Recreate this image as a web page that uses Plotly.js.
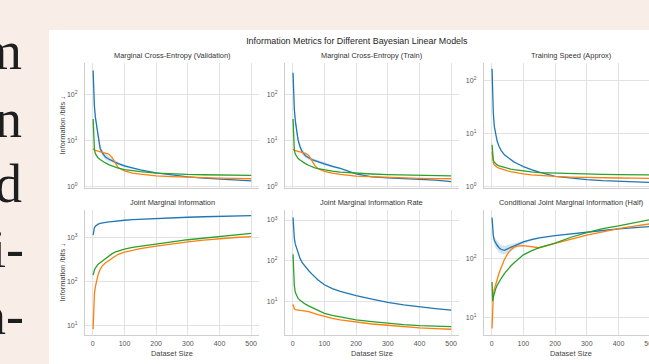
<!DOCTYPE html>
<html>
<head>
<meta charset="utf-8">
<script src="https://cdn.plot.ly/plotly-3.0.1.min.js"></script>
<style>
  html, body { margin:0; padding:0; width:649px; height:364px; overflow:hidden; background:#f9ede8; }
  #page { position:relative; width:649px; height:364px; overflow:hidden; }
  .ln { position:absolute; left:-200px; width:222px; text-align:right; font-family:"Liberation Serif","DejaVu Serif",serif; font-size:54px; line-height:54px; color:#1e1e1e; white-space:nowrap; }
  #chart { position:absolute; left:49px; top:30px; width:620px; height:340px; background:#fff; }
</style>
</head>
<body>
<div id="page">
  <div class="ln" style="top:24px">m</div>
  <div class="ln" style="top:92px">n</div>
  <div class="ln" style="top:157px">d</div>
  <div class="ln" style="top:222px;width:224px">i-</div>
  <div class="ln" style="top:289px;width:224px">n-</div>
  <div id="chart"></div>
</div>
<script>
// ---------- data ----------
const datasetSize = [1,2,3,5,8,12,17,23,30,40,50,60,70,80,100,125,150,200,250,300,350,400,450,500];
const bandSize = [3,5,8,12,17,23,30,40,50,60,70,80,100,125,150];

const panelTitles = ["Marginal Cross-Entropy (Validation)","Marginal Cross-Entropy (Train)","Training Speed (Approx)",
                     "Joint Marginal Information","Joint Marginal Information Rate","Conditional Joint Marginal Information (Half)"];
const seriesNames = ["Model A","Model B","Model C"];
const xTickVals = [0,100,200,300,400,500];
const yTickVals = [1,10,100,1000];
const yTickText = ["10<sup>0</sup>","10<sup>1</sup>","10<sup>2</sup>","10<sup>3</sup>"];

// Marginal Cross-Entropy (Validation)
const valBlue   = [327,170,100,55,32,20,11,6.7,5.3,4.3,3.9,3.6,3.3,3.1,2.75,2.45,2.25,1.95,1.75,1.6,1.5,1.42,1.35,1.3];
const valOrange = [6.5,6.3,6.2,6.1,6.0,5.9,5.8,5.7,5.6,5.4,5.0,4.3,3.2,2.55,2.15,1.92,1.82,1.68,1.62,1.56,1.52,1.49,1.47,1.45];
const valGreen  = [29,14,9,6.3,5.1,4.5,4.1,3.8,3.5,3.2,2.95,2.75,2.6,2.48,2.3,2.17,2.08,1.93,1.85,1.8,1.77,1.75,1.73,1.72];
const valBlueLo = [82,45,26,16.5,9.2,5.6,4.6,3.7,3.45,3.25,3.0,2.85,2.58,2.35,2.2];
const valBlueHi = [120,66,39,24,13.5,8.0,6.2,5.0,4.4,4.0,3.6,3.35,2.95,2.55,2.3];

// Marginal Cross-Entropy (Train)
const trnBlue   = [295,150,90,48,27,16,10,7.2,5.6,4.6,4.1,3.8,3.6,3.45,3.05,2.7,2.45,1.85,1.6,1.52,1.46,1.41,1.35,1.25];
const trnOrange = [6.4,6.2,6.1,6.0,5.9,5.8,5.7,5.6,5.5,5.2,4.7,3.6,2.8,2.4,2.1,1.92,1.8,1.66,1.6,1.55,1.51,1.48,1.46,1.45];
const trnGreen  = [29,14,9,6.2,5.0,4.4,4.0,3.7,3.4,3.1,2.85,2.65,2.5,2.4,2.25,2.12,2.03,1.9,1.84,1.78,1.74,1.71,1.69,1.67];
const trnBlueLo = [74,40,22,13,8.4,6.1,4.8,4.1,3.7,3.45,3.3,3.2,2.85,2.57,2.36];
const trnBlueHi = [110,58,33,19.5,12,8.5,6.5,5.2,4.6,4.2,3.9,3.7,3.25,2.85,2.55];

// Training Speed (Approx)
const spdBlue   = [170,85,50,25,14,9.5,7.3,5.8,4.8,4.0,3.6,3.2,2.95,2.75,2.4,2.1,1.88,1.57,1.45,1.36,1.3,1.26,1.23,1.2];
const spdOrange = [4.6,3.6,3.2,2.85,2.6,2.45,2.33,2.24,2.16,2.08,2.0,1.93,1.87,1.82,1.74,1.67,1.62,1.56,1.52,1.49,1.47,1.46,1.45,1.44];
const spdGreen  = [6.2,4.4,3.8,3.2,2.9,2.7,2.58,2.48,2.4,2.3,2.22,2.15,2.1,2.05,1.97,1.9,1.85,1.8,1.76,1.73,1.71,1.69,1.68,1.67];

// Joint Marginal Information
const jmiBlue   = [1120,1350,1480,1650,1780,1900,1990,2060,2120,2190,2230,2280,2330,2370,2440,2510,2570,2680,2760,2850,2930,3000,3050,3100];
const jmiOrange = [8.1,22,35,52,75,110,145,185,225,265,295,340,380,410,460,510,550,630,710,790,860,930,990,1040];
const jmiGreen  = [138,150,162,180,200,222,245,265,290,330,375,420,460,490,540,590,630,700,790,880,950,1030,1130,1230];

// Joint Marginal Information Rate
const rateBlue   = [1150,700,520,360,260,210,150,115,90,70,58,48,40,34,26,21,18,14,11.5,9.6,8.4,7.4,6.8,6.2];
const rateOrange = [8.6,7.6,7.0,6.7,6.4,6.3,6.2,6.1,6.0,5.9,5.7,5.5,5.1,4.8,4.3,3.9,3.6,3.15,2.85,2.65,2.45,2.3,2.2,2.12];
const rateGreen  = [145,75,48,25,17,14,12,10.8,9.8,8.7,7.9,7.2,6.6,6.1,5.2,4.6,4.2,3.6,3.25,2.95,2.75,2.6,2.5,2.45];

// Conditional Joint Marginal Information (Half)
const condBlue   = [480,380,290,240,200,180,165,150,140,136,146,152,160,170,188,205,220,240,258,275,292,310,325,340];
const condOrange = [6.6,13,18.6,24,30,36,45,56,70,95,118,138,153,160,163,155,150,178,210,245,278,315,345,378];
const condGreen  = [40,25,19,22,26,30,35,40,46,55,65,74,83,92,114,133,150,180,225,270,315,350,395,445];
const condBlueLo = [260,210,172,150,138,126,118,116,124,132,141,152,175,197,213];
const condBlueHi = [325,275,232,212,195,178,165,160,166,172,178,186,200,213,226];

// ---------- styling ----------
const C_BLUE = "#1f77b4", C_ORANGE = "#ff7f0e", C_GREEN = "#2ca02c";
const BAND = "rgba(31,119,180,0.2)";
const FONT = "Liberation Sans, Arial, sans-serif";
const W = 620, H = 340;
const colDom = [[35.9,210.1],[235.8,410.1],[434.8,609.1]];
const row1 = [1-158/H, 1-33/H], row2 = [1-305/H, 1-180/H];
const yRanges = [[-0.04,2.68],[-0.04,2.68],[-0.025,2.34],[0.78,3.62],[0.185,3.245],[0.71,2.81]];

const panels = [
  {b:valBlue,o:valOrange,g:valGreen,lo:valBlueLo,hi:valBlueHi},
  {b:trnBlue,o:trnOrange,g:trnGreen,lo:trnBlueLo,hi:trnBlueHi},
  {b:spdBlue,o:spdOrange,g:spdGreen},
  {b:jmiBlue,o:jmiOrange,g:jmiGreen},
  {b:rateBlue,o:rateOrange,g:rateGreen},
  {b:condBlue,o:condOrange,g:condGreen,lo:condBlueLo,hi:condBlueHi}
];

const traces = [];
const layout = {
  width: W, height: H,
  margin: {l:0,r:0,t:0,b:0},
  paper_bgcolor: "#ffffff", plot_bgcolor: "#ffffff",
  showlegend: false,
  font: {family: FONT, color: "#333"},
  title: {text: "Information Metrics for Different Bayesian Linear Models",
          x: 307.8/W, y: 1 - 10.7/H, xanchor: "center", yanchor: "middle",
          xref: "paper", yref: "paper", font: {size: 8.9, color: "#262626", family: FONT}},
  annotations: []
};

panels.forEach((p, i) => {
  const n = i + 1;
  const xa = "x" + (n === 1 ? "" : n), ya = "y" + (n === 1 ? "" : n);
  const col = i % 3, row = Math.floor(i / 3);
  if (p.lo) {
    traces.push({x: bandSize, y: p.lo, xaxis: xa, yaxis: ya, mode: "lines", line: {width: 0, color: BAND}, hoverinfo: "skip"});
    traces.push({x: bandSize, y: p.hi, xaxis: xa, yaxis: ya, mode: "lines", line: {width: 0, color: BAND}, fill: "tonexty", fillcolor: BAND, hoverinfo: "skip"});
  }
  [[p.b, C_BLUE, 0], [p.o, C_ORANGE, 1], [p.g, C_GREEN, 2]].forEach(([v, c, k]) => {
    traces.push({x: datasetSize, y: v, xaxis: xa, yaxis: ya, mode: "lines", name: seriesNames[k], line: {color: c, width: 1.3}});
  });
  const dom = colDom[col];
  const xKey = "xaxis" + (n === 1 ? "" : n), yKey = "yaxis" + (n === 1 ? "" : n);
  layout[xKey] = {
    domain: [dom[0]/W, dom[1]/W], anchor: ya, range: [-25, 525],
    tickmode: "array", tickvals: xTickVals, showticklabels: row === 1,
    ticks: "", ticklabelstandoff: 2,
    tickfont: {size: 7, color: "#555", family: FONT},
    showgrid: true, gridcolor: "#e2e2e2", gridwidth: 1,
    showline: true, linecolor: "#cfcfcf", linewidth: 1, zeroline: false
  };
  layout[yKey] = {
    domain: row === 0 ? row1 : row2, anchor: xa, type: "log", range: yRanges[i],
    tickmode: "array", tickvals: yTickVals, ticktext: yTickText,
    ticks: "", ticklabelstandoff: 5,
    tickfont: {size: 7, color: "#555", family: FONT},
    showgrid: true, gridcolor: "#e2e2e2", gridwidth: 1,
    showline: true, linecolor: "#cfcfcf", linewidth: 1, zeroline: false
  };
  const cx = (dom[0] + dom[1]) / 2 / W;
  layout.annotations.push({text: panelTitles[i], x: cx, y: row === 0 ? 1 - 26/H : 1 - 172.5/H,
    xref: "paper", yref: "paper", xanchor: "center", yanchor: "middle", showarrow: false,
    font: {size: 7.4, color: "#333", family: FONT}});
  if (col === 0) {
    layout.annotations.push({text: "Information /bits ↓", x: 13/W, y: row === 0 ? 1 - 95.5/H : 1 - 242.5/H,
      xref: "paper", yref: "paper", xanchor: "center", yanchor: "middle", textangle: -90, showarrow: false,
      font: {size: 7.4, color: "#444", family: FONT}});
  }
  if (row === 1) {
    layout.annotations.push({text: "Dataset Size", x: cx, y: 1 - 323/H,
      xref: "paper", yref: "paper", xanchor: "center", yanchor: "middle", showarrow: false,
      font: {size: 7.4, color: "#444", family: FONT}});
  }
});

Plotly.newPlot("chart", traces, layout, {staticPlot: true, displayModeBar: false});
</script>
</body>
</html>
